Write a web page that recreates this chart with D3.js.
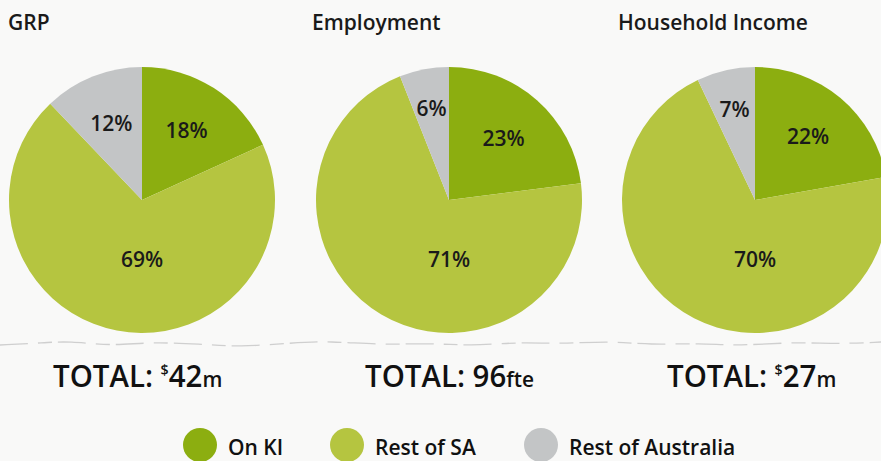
<!DOCTYPE html>
<html>
<head>
<meta charset="utf-8">
<script src="https://cdn.jsdelivr.net/npm/d3@7"></script>
<style>
  html, body { margin: 0; padding: 0; background: #f9f9f8; }
  svg { display: block; }
</style>
</head>
<body>
<svg id="chart" width="881" height="461"></svg>
<script>
// ---- data ----
const categories = ["On KI", "Rest of SA", "Rest of Australia"];
const charts = ["GRP", "Employment", "Household Income"];
const grpValues = [18, 69, 12];
const employmentValues = [23, 71, 6];
const incomeValues = [22, 70, 7];
const totalValues = ["42", "96", "27"];
const totalPrefixes = ["$", "", "$"];
const totalUnits = ["m", "fte", "m"];

const seriesValues = [grpValues, employmentValues, incomeValues];
const colors = ["#8cae10", "#b5c540", "#c3c5c6"];

const svg = d3.select("#chart");
const R = 133;
const centersX = [142, 449, 755];
const centerY = 200;
const titleX = [8, 312, 618];
const totalX = [53, 365, 667];

const color = d3.scaleOrdinal().domain(categories).range(colors);
const pie = d3.pie().sort(null).value(d => d.value);
const arc = d3.arc().innerRadius(0).outerRadius(R);

// torn-paper divider line
const tear = [[0,345],[40,343],[70,341],[110,346],[150,342],[200,344],[240,347],[290,343],[330,341],[380,345],[430,343],[470,346],[520,342],[560,344],[610,341],[650,345],[700,343],[740,346],[790,342],[840,344],[881,342]];
svg.append("path")
  .attr("d", d3.line().curve(d3.curveBasis)(tear))
  .attr("fill", "none").attr("stroke", "#cfcfcf").attr("stroke-width", 1.3)
  .attr("stroke-dasharray", "28 10 14 6");

const fontMain = "'Open Sans', 'Noto Sans', sans-serif";

charts.forEach((name, i) => {
  const data = categories.map((c, k) => ({ cat: c, value: seriesValues[i][k] }));
  const g = svg.append("g").attr("transform", `translate(${centersX[i]},${centerY})`);
  const arcs = pie(data);
  g.selectAll("path").data(arcs).enter().append("path")
    .attr("d", arc)
    .attr("fill", d => color(d.data.cat));

  g.selectAll("text").data(arcs).enter().append("text")
    .attr("transform", d => {
      const frac = d.data.value / d3.sum(data, e => e.value);
      if (frac > 0.5) return `translate(0,${0.45 * R})`;
      const r = (frac < 0.1 ? 0.7 : 0.62) * R;
      const a = (d.startAngle + d.endAngle) / 2;
      return `translate(${Math.sin(a) * r},${-Math.cos(a) * r})`;
    })
    .attr("text-anchor", "middle")
    .attr("dy", "0.35em")
    .attr("font-family", fontMain)
    .attr("font-weight", 600)
    .attr("font-size", 21)
    .attr("fill", "#1a1a1a")
    .text(d => d.data.value + "%");

  svg.append("text")
    .attr("x", titleX[i]).attr("y", 30)
    .attr("font-family", fontMain)
    .attr("font-weight", 600)
    .attr("font-size", 21)
    .attr("fill", "#1a1a1a")
    .text(name);

  const t = svg.append("text")
    .attr("transform", `translate(${totalX[i]},387) scale(0.95,1)`)
    .attr("font-family", fontMain)
    .attr("font-weight", 600)
    .attr("fill", "#111");
  t.append("tspan").attr("font-size", 31).text("TOTAL: ");
  if (totalPrefixes[i]) t.append("tspan").attr("font-size", 15).attr("dy", -12).text(totalPrefixes[i]);
  t.append("tspan").attr("font-size", 31).attr("dy", totalPrefixes[i] ? 12 : 0).text(totalValues[i]);
  t.append("tspan").attr("font-size", 22).text(totalUnits[i]);
});

// legend
const legendX = [200, 347, 541];
const lg = svg.append("g");
categories.forEach((c, k) => {
  lg.append("ellipse")
    .attr("cx", legendX[k]).attr("cy", 445)
    .attr("rx", 17).attr("ry", 17)
    .attr("fill", color(c));
  lg.append("text")
    .attr("x", legendX[k] + 28).attr("y", 455)
    .attr("font-family", fontMain)
    .attr("font-weight", 600)
    .attr("font-size", 21)
    .attr("fill", "#111")
    .text(c);
});
</script>
</body>
</html>
